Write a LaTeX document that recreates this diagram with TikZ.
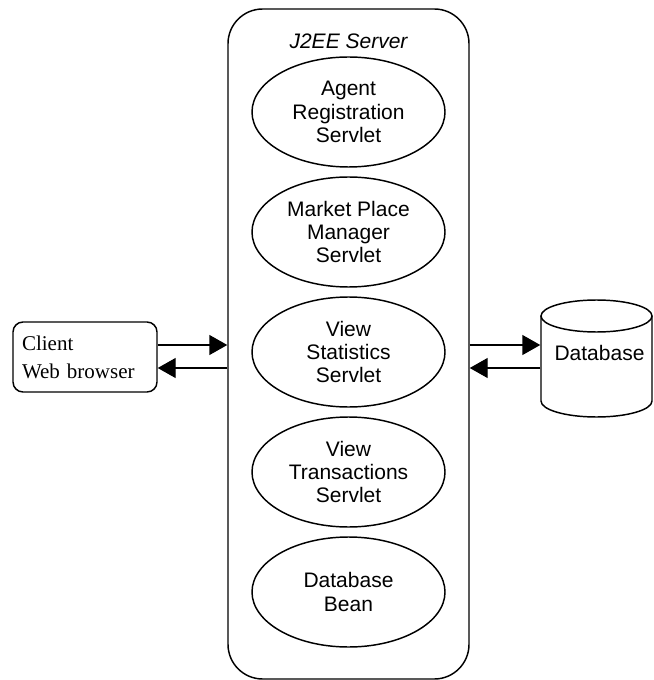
\documentclass[tikz,border=0pt]{standalone}
\usepackage{fontspec}
\setmainfont{Liberation Serif}
\setsansfont{Liberation Sans}
\usetikzlibrary{shapes.geometric,arrows.meta}
\begin{document}
\begin{tikzpicture}[x=0.75pt,y=-0.75pt,
  line width=1.1pt,
  comp/.style={ellipse, draw, minimum width=144.75pt, minimum height=82.5pt, inner sep=0pt, align=center, font=\sffamily\fontsize{15.75}{17.6}\selectfont},
  serverbox/.style={draw, rounded corners=26pt, minimum width=180.75pt, minimum height=502.5pt, inner sep=0pt},
  clientbox/.style={draw, rounded corners=7.5pt, minimum width=108pt, minimum height=52.5pt, text width=94.5pt, inner xsep=6.75pt, inner ysep=0pt, align=left, font=\fontsize{15.75}{21}\selectfont},
  arr/.style={-{Triangle[length=13.5pt,width=15pt]}},
  lbl/.style={font=\sffamily\fontsize{15.75}{17.6}\selectfont, inner sep=0pt}
]
\useasboundingbox (0,0) rectangle (653,680);

\node[serverbox] (server) at (348.5,344) {};
\node[lbl, font=\sffamily\itshape\fontsize{15.75}{17.6}\selectfont] (title) at (348.5,41) {J2EE Server};

\node[comp] (agent) at (348.5,112) {Agent\\Registration\\Servlet};
\node[comp] (market) at (348.5,232) {Market Place\\Manager\\Servlet};
\node[comp] (stats) at (348.5,352) {View\\Statistics\\Servlet};
\node[comp] (trans) at (348.5,472) {View\\Transactions\\Servlet};
\node[comp] (bean) at (348.5,592) {Database\\Bean};

\node[clientbox] (client) at (85,357) {Client\\Web browser};

% database cylinder
\node[minimum width=83.25pt, minimum height=87.75pt, inner sep=0pt] (db) at (596.5,358.5) {};
\draw (596.5,316) ellipse [x radius=41.625pt, y radius=12pt];
\draw (541,316) -- (541,401) arc[start angle=180, end angle=360, x radius=41.625pt, y radius=12pt] -- (652,316);
\node[lbl] (dbtext) at (599.5,353) {Database};

\draw[arr] (client.east |- 0,345) -- (server.west |- 0,345);
\draw[arr] (server.west |- 0,368) -- (client.east |- 0,368);
\draw[arr] (server.east |- 0,345) -- (db.west |- 0,345);
\draw[arr] (db.west |- 0,368) -- (server.east |- 0,368);
\end{tikzpicture}
\end{document}
